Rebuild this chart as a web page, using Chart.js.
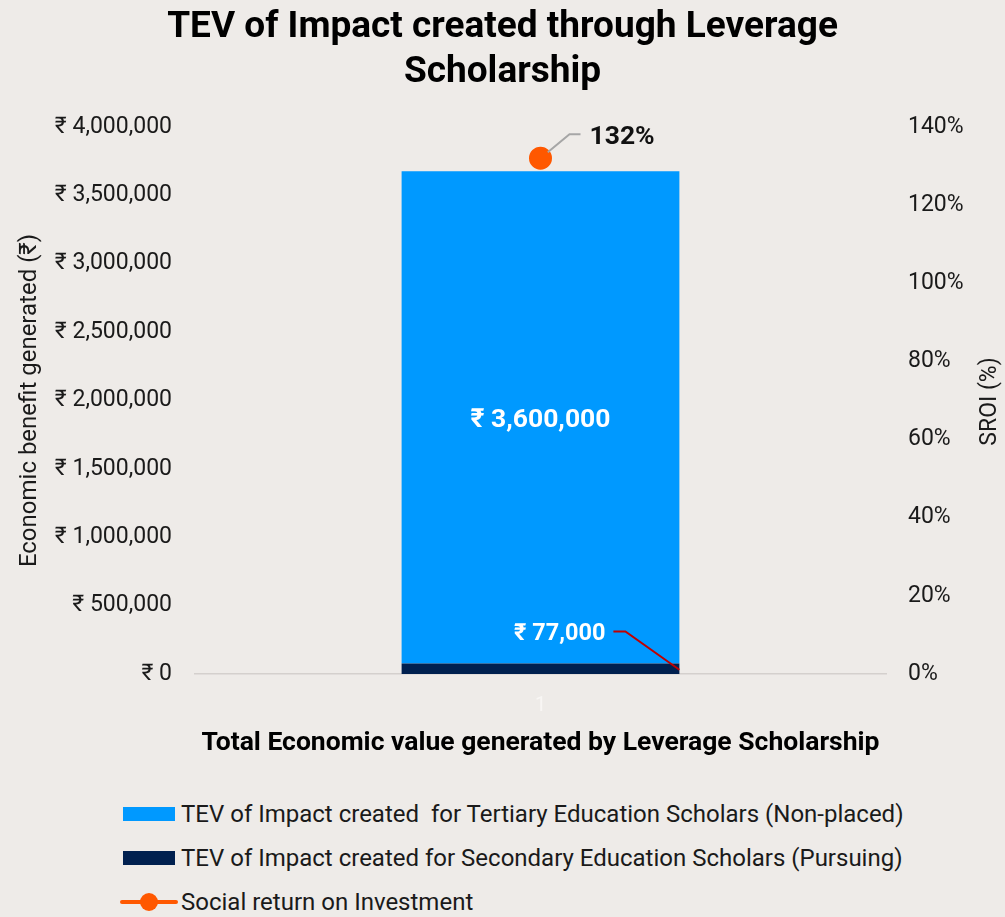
<!DOCTYPE html>
<html>
<head>
<meta charset="utf-8">
<script src="https://cdn.jsdelivr.net/npm/chart.js@4/dist/chart.umd.min.js"></script>
<style>
  html, body { margin: 0; padding: 0; background: #eeebe8; }
  body { width: 1005px; height: 917px; position: relative; overflow: hidden; font-family: Roboto, "Noto Sans", sans-serif; }
  #wrap { position: absolute; left: 0; top: 0; width: 1005px; height: 775px; }
  .legend { position: absolute; left: 120px; top: 792px; }
  .item { height: 44px; display: flex; align-items: center; font-size: 24px; color: #1a1a1a; white-space: pre; }
  .box { width: 52px; height: 14px; margin: 0 6px 0 3px; }
  .lineKey { position: relative; width: 58px; height: 18px; margin-right: 3px; }
  .lineKey:before { content: ''; position: absolute; left: 0; right: 0; top: 7px; height: 4px; background: #ff5800; border-radius: 2px; }
  .lineKey:after { content: ''; position: absolute; left: 20px; top: 0; width: 18px; height: 18px; border-radius: 50%; background: #ff5800; }
</style>
</head>
<body>
<div id="wrap"><canvas id="chart" width="1005" height="775"></canvas></div>
<div class="legend" id="legend"></div>
<script>
// chart data
const categories = ['1'];
const secondaryValues = [77000];
const tertiaryValues = [3600000];
const sroiValues = [132];
const leftTicks = [0, 500000, 1000000, 1500000, 2000000, 2500000, 3000000, 3500000, 4000000];
const rightTicks = [0, 20, 40, 60, 80, 100, 120, 140];

const seriesNames = [
  'TEV of Impact created  for Tertiary Education Scholars (Non-placed)',
  'TEV of Impact created for Secondary Education Scholars (Pursuing)',
  'Social return on Investment'
];

const BLUE = '#0099ff';
const NAVY = '#00204f';
const ORANGE = '#ff5800';
const FONT = 'Roboto, "Noto Sans", sans-serif';

const rupee = (v) => '\u20B9 ' + v.toLocaleString('en-US');

// labels and leader lines drawn on top of the marks
const labelPlugin = {
  id: 'labels',
  afterDatasetsDraw(chart) {
    const ctx = chart.ctx;
    const navyBar = chart.getDatasetMeta(0).data[0];
    const blueBar = chart.getDatasetMeta(1).data[0];
    const point = chart.getDatasetMeta(2).data[0];
    ctx.save();

    // big bar value
    ctx.fillStyle = '#ffffff';
    ctx.font = 'bold 26.5px ' + FONT;
    ctx.textAlign = 'center';
    ctx.textBaseline = 'middle';
    ctx.fillText(rupee(tertiaryValues[0]), blueBar.x, (blueBar.y + blueBar.base) / 2 + 3);

    // small bar value with red leader
    const right = navyBar.x + navyBar.width / 2;
    const ly = navyBar.y - 32;
    ctx.font = 'bold 23.5px ' + FONT;
    ctx.textAlign = 'right';
    ctx.fillText(rupee(secondaryValues[0]), right - 74, ly + 3);
    ctx.strokeStyle = '#c00000';
    ctx.lineWidth = 2;
    ctx.beginPath();
    ctx.moveTo(right - 66, ly);
    ctx.lineTo(right - 54, ly);
    ctx.lineTo(right, (navyBar.y + navyBar.base) / 2 + 1);
    ctx.stroke();

    // sroi label with grey leader
    ctx.strokeStyle = '#a6a6a6';
    ctx.beginPath();
    ctx.moveTo(point.x, point.y);
    ctx.lineTo(point.x + 29, point.y - 24);
    ctx.lineTo(point.x + 40, point.y - 24);
    ctx.stroke();
    ctx.fillStyle = '#111111';
    ctx.font = 'bold 26.5px ' + FONT;
    ctx.textAlign = 'left';
    ctx.fillText(sroiValues[0] + '%', point.x + 49, point.y - 21);

    // point redrawn over leader start
    ctx.fillStyle = ORANGE;
    ctx.beginPath();
    ctx.arc(point.x, point.y, 9.5, 0, Math.PI * 2);
    ctx.fill();
    ctx.restore();
  },
  afterDraw(chart) {
    // right axis title reads bottom-to-top
    const ctx = chart.ctx;
    const area = chart.chartArea;
    ctx.save();
    ctx.translate(990, (area.top + area.bottom) / 2 + 1);
    ctx.rotate(-Math.PI / 2);
    ctx.fillStyle = '#1a1a1a';
    ctx.font = '23px ' + FONT;
    ctx.textAlign = 'center';
    ctx.textBaseline = 'middle';
    ctx.fillText('SROI (%)', 0, 0);
    ctx.restore();
  }
};

new Chart(document.getElementById('chart'), {
  type: 'bar',
  data: {
    labels: categories,
    datasets: [
      {
        label: seriesNames[1],
        data: secondaryValues,
        backgroundColor: NAVY,
        yAxisID: 'y',
        stack: 'tev',
        order: 2
      },
      {
        label: seriesNames[0],
        data: tertiaryValues,
        backgroundColor: BLUE,
        yAxisID: 'y',
        stack: 'tev',
        order: 2
      },
      {
        type: 'line',
        label: seriesNames[2],
        data: sroiValues,
        yAxisID: 'y1',
        borderColor: ORANGE,
        backgroundColor: ORANGE,
        borderWidth: 4,
        pointRadius: 9.5,
        order: 1
      }
    ]
  },
  options: {
    responsive: false,
    animation: false,
    layout: { padding: 0 },
    datasets: {
      bar: { categoryPercentage: 1, barPercentage: 0.402 }
    },
    plugins: {
      legend: { display: false },
      tooltip: { enabled: false },
      title: {
        display: true,
        text: ['TEV of Impact created through Leverage', 'Scholarship'],
        color: '#000000',
        font: { family: FONT, size: 37, weight: 'bold', lineHeight: 1.22 },
        padding: { top: 5.5, bottom: 31.2 }
      }
    },
    scales: {
      x: {
        stacked: true,
        grid: { display: false, drawTicks: false },
        border: { display: true, color: '#d4d0cd', width: 1.5 },
        ticks: { color: '#f8f6f4', font: { family: FONT, size: 20 }, padding: 20 },
        title: {
          display: true,
          text: 'Total Economic value generated by Leverage Scholarship',
          color: '#000000',
          font: { family: FONT, size: 26.5, weight: 'bold' },
          padding: { top: 0, bottom: 16 }
        },
        afterFit(scale) { scale.height = 775 - 674; }
      },
      y: {
        stacked: true,
        position: 'left',
        min: 0,
        max: leftTicks[leftTicks.length - 1],
        afterBuildTicks(scale) { scale.ticks = leftTicks.map(v => ({ value: v })); },
        grid: { display: false, drawTicks: false },
        border: { display: false },
        ticks: {
          color: '#1a1a1a',
          font: { family: FONT, size: 23 },
          padding: 23,
          callback: (v) => rupee(v)
        },
        title: {
          display: true,
          text: 'Economic benefit generated (\u20B9)',
          color: '#1a1a1a',
          font: { family: FONT, size: 24 },
          padding: { top: 16, bottom: 0 }
        },
        afterFit(scale) { scale.width = 195; }
      },
      y1: {
        position: 'right',
        min: 0,
        max: rightTicks[rightTicks.length - 1],
        afterBuildTicks(scale) { scale.ticks = rightTicks.map(v => ({ value: v })); },
        grid: { display: false, drawTicks: false },
        border: { display: false },
        ticks: {
          color: '#1a1a1a',
          font: { family: FONT, size: 23 },
          padding: 22,
          callback: (v) => v + '%'
        },
        afterFit(scale) { scale.width = 1005 - 886; }
      }
    }
  },
  plugins: [labelPlugin]
});

// legend below the chart
const legend = document.getElementById('legend');
const keys = [
  '<span class="box" style="background:' + BLUE + '"></span>',
  '<span class="box" style="background:' + NAVY + '"></span>',
  '<span class="lineKey"></span>'
];
seriesNames.forEach((name, i) => {
  const row = document.createElement('div');
  row.className = 'item';
  row.innerHTML = keys[i] + '<span></span>';
  row.lastChild.textContent = name;
  legend.appendChild(row);
});
</script>
</body>
</html>
